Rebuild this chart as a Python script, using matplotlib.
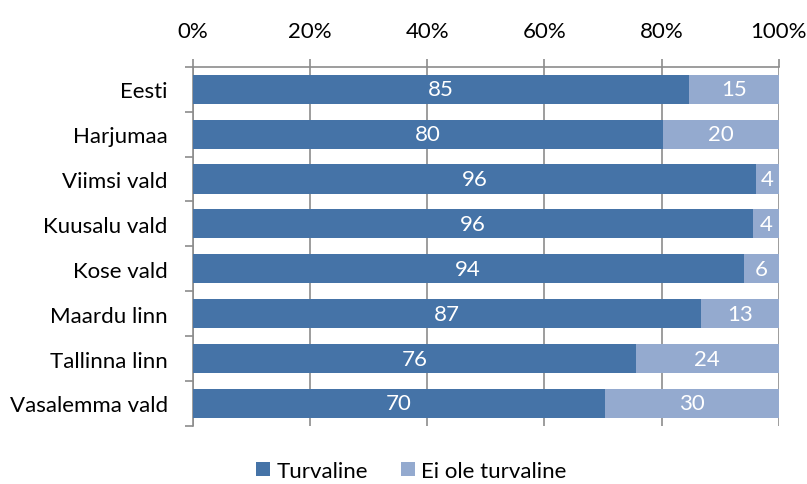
import matplotlib
matplotlib.use("Agg")
import matplotlib.pyplot as plt
import numpy as np
from matplotlib.ticker import FixedLocator

plt.rcParams['font.family'] = ['Lato', 'DejaVu Sans']

categories = ["Eesti", "Harjumaa", "Viimsi vald", "Kuusalu vald", "Kose vald",
              "Maardu linn", "Tallinna linn", "Vasalemma vald"]
turvaline = [84.6, 80.2, 96.1, 95.6, 94.0, 86.7, 75.6, 70.4]
ei_ole = [15.4, 19.8, 3.9, 4.4, 6.0, 13.3, 24.4, 29.6]
xticks = [0, 20, 40, 60, 80, 100]

c_dark = "#4573A7"
c_light = "#94AACF"
grey = "#8C8C8C"
fs = 16

fig = plt.figure(figsize=(8.07, 4.85), dpi=100)
ax = fig.add_axes([0.239, 0.120, 0.726, 0.740])

y = np.arange(len(categories))
b1 = ax.barh(y, turvaline, height=0.65, color=c_dark, label="Turvaline", zorder=3)
b2 = ax.barh(y, ei_ole, left=turvaline, height=0.65, color=c_light,
             label="Ei ole turvaline", zorder=3)

for rect, v in zip(b1, turvaline):
    ax.text(rect.get_x() + rect.get_width() / 2, rect.get_y() + rect.get_height() / 2,
            f"{v:.0f}", ha="center", va="center", color="white", fontsize=fs, zorder=4)
for rect, v in zip(b2, ei_ole):
    ax.text(rect.get_x() + rect.get_width() / 2, rect.get_y() + rect.get_height() / 2,
            f"{v:.0f}", ha="center", va="center", color="white", fontsize=fs, zorder=4)

ax.set_xlim(0, 100)
ax.set_ylim(len(categories) - 0.5, -0.5)
ax.xaxis.tick_top()
ax.set_xticks(xticks)
ax.set_xticklabels([f"{t}%" for t in xticks], fontsize=fs)
ax.tick_params(axis="x", direction="out", length=6, color=grey, pad=13, width=1.2)
ax.grid(axis="x", color=grey, linewidth=1.2, zorder=0)

ax.set_yticks(y)
ax.set_yticklabels(categories, fontsize=fs)
ax.yaxis.set_minor_locator(FixedLocator(np.arange(-0.5, len(categories), 1)))
ax.tick_params(axis="y", which="major", length=0, pad=18)
ax.tick_params(axis="y", which="minor", length=6, color=grey, width=1.2)

for s in ["right", "bottom"]:
    ax.spines[s].set_visible(False)
for s in ["top", "left"]:
    ax.spines[s].set_color(grey)
    ax.spines[s].set_linewidth(1.2)

fig.legend(handles=[b1, b2], loc="lower center", bbox_to_anchor=(0.51, -0.035),
           ncol=2, frameon=False, fontsize=fs, handlelength=0.6, handleheight=0.6,
           handletextpad=0.3, columnspacing=1.5)

fig.savefig("out.png", dpi=100)
